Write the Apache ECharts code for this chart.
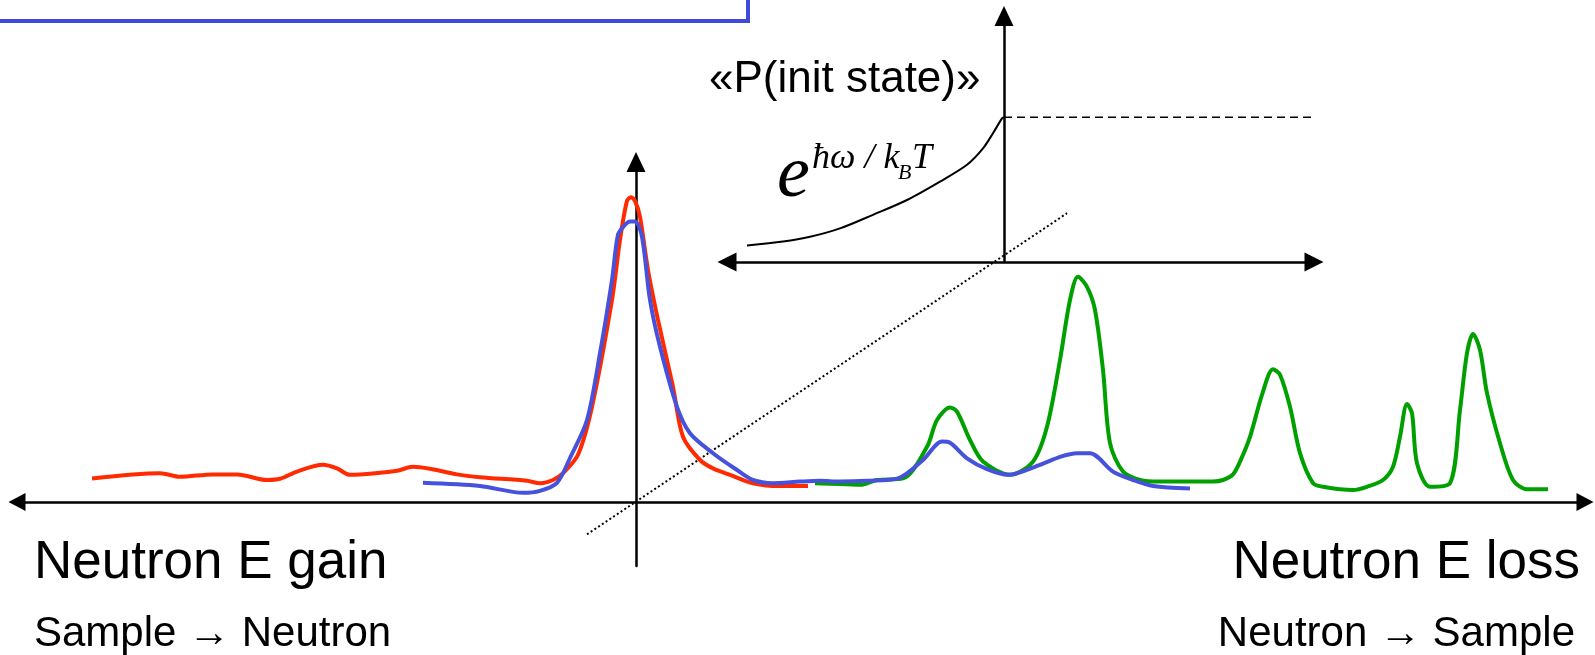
<!DOCTYPE html>
<html>
<head>
<meta charset="utf-8">
<script src="https://cdn.jsdelivr.net/npm/echarts@6/dist/echarts.min.js"></script>
<style>
  html, body { margin: 0; padding: 0; background: #fff; }
  #chart { width: 1595px; height: 655px; }
</style>
</head>
<body>
<div id="chart"></div>
<script>
// Energy transfer (arbitrary units, 0 = elastic line) and intensity (arbitrary units)

// Neutron energy-gain side, high temperature spectrum
const redSpectrum = [
  [-54.4, 5.9], [-47.6, 7.2], [-45.6, 6.3], [-42.3, 6.9], [-39.9, 6.9], [-36.9, 5.5],
  [-35.6, 5.8], [-33.9, 7.6], [-31.3, 9.3], [-29.9, 8.4], [-28.6, 6.8], [-25.6, 7.3],
  [-23.9, 7.8], [-22.3, 8.8], [-20.6, 8.3], [-17.9, 6.9], [-15.6, 6.2], [-10.9, 5.3],
  [-9.6, 4.7], [-8.3, 5.5], [-7.3, 7.2], [-5.8, 11.8], [-4.4, 23.8], [-2.4, 50.5],
  [-1.6, 65.5], [-0.9, 75.3], [-0.5, 76.2], [-0.1, 75.3], [0.4, 71.3], [1.2, 58],
  [2.2, 45.5], [3.7, 28.8], [4.7, 16.3], [6.4, 10.5], [7.7, 8.4], [9.4, 6.8],
  [11.7, 4.7], [14.4, 4.0], [17.2, 4.0]
];

// Smoothed (resolution-limited) spectrum
const blueSpectrum = [
  [-21.3, 4.8], [-15.6, 4.0], [-11.3, 2.3], [-9.6, 2.8], [-7.9, 4.8], [-6.6, 11],
  [-4.9, 20.5], [-3.6, 37.2], [-2.4, 55.5], [-1.8, 66.8], [-1.2, 69], [-0.6, 70.1],
  [-0.1, 70.1], [0.6, 66.3], [1.4, 50.5], [2.4, 38.8], [4.1, 23.8], [5.4, 17.2],
  [7.7, 12.2], [10.1, 8], [11.7, 5.5], [13.7, 4.7], [16.4, 5.1], [18.4, 5.3],
  [20.4, 5.1], [23.1, 5.3], [26.2, 5.9], [28.7, 10.5], [30.6, 15.1], [31.4, 14.8],
  [33.1, 10.9], [35.1, 8.2], [37.2, 6.8], [40.4, 9.3], [42.4, 11.3], [44.1, 12.2],
  [45.4, 12.2], [47.7, 7.6], [49.7, 5.5], [51.7, 4.0], [55.4, 3.4]
];

// Neutron energy-loss side, sharp excitations
const greenSpectrum = [
  [17.9, 4.7], [20.4, 4.5], [22.4, 4.3], [24.1, 5.5], [26.7, 5.9], [29.1, 13.8],
  [30.1, 20.5], [31.4, 23.6], [32.1, 22.6], [33.4, 15.5], [34.7, 10.1], [37.4, 6.8],
  [39.7, 10.1], [41.1, 18.8], [42.4, 35.5], [43.4, 50.5], [44.2, 56.3], [45.1, 53.8],
  [45.9, 48], [46.7, 33], [47.4, 14.7], [48.7, 7.6], [50.4, 5.5], [52.4, 5.1],
  [56.4, 5.1], [57.7, 5.1], [58.7, 5.5], [59.7, 6.9], [60.4, 10.1], [61.4, 16.3],
  [62.6, 26.8], [63.7, 33.2], [64.4, 31.8], [65.4, 23.8], [66.4, 12.2], [67.7, 4.7],
  [68.7, 3.8], [71.7, 3.0], [73.1, 3.8], [74.7, 5.5], [75.7, 8.8], [76.4, 16.3],
  [77.1, 24.5], [77.6, 22.2], [78.1, 9.7], [79.4, 3.8], [81.4, 4.7], [82.4, 23],
  [83.1, 37.2], [83.7, 42], [84.4, 38], [85.1, 27.2], [86.4, 14.7], [87.7, 5.5],
  [89.1, 3.2], [91.2, 3.2]
];

// Guide line linking the two origins
const diagonalGuide = [[-4.9, -8.1], [43.1, 72.2]];

// Inset: initial-state population
const boltzmannCurve = [
  [-25.7, 4.1], [-22.1, 5.1], [-19.4, 6.3], [-16.4, 8.4], [-13.1, 11.8], [-9.7, 15.5],
  [-6.4, 20.1], [-3.7, 24.3], [-2.1, 28.4], [-1.1, 32.2], [-0.2, 35.9], [0, 36.2]
];
const groundPlateau = [[0, 36.2], [30.7, 36.2]];

const chart = echarts.init(document.getElementById('chart'), null, { renderer: 'canvas' });

const hidden = { axisTick: { show: false }, axisLabel: { show: false }, splitLine: { show: false } };
const axisStroke = { color: '#000', width: 2.5 };
const serif = '"Liberation Serif", "Times New Roman", serif';
const sans = '"Liberation Sans", Arial, sans-serif';

function lineSeries(data, color, width, extra) {
  return Object.assign({
    type: 'line', data: data, showSymbol: false, symbol: 'none', silent: true,
    lineStyle: { color: color, width: width }, z: 3
  }, extra || {});
}

chart.setOption({
  animation: false,
  backgroundColor: '#fff',
  grid: [
    { left: 17, right: 10, top: 162, bottom: 89 },
    { left: 727, right: 281, top: 16, bottom: 393 }
  ],
  xAxis: [
    Object.assign({
      type: 'value', gridIndex: 0, min: -61.9, max: 94.9,
      axisLine: { show: true, onZero: true, lineStyle: axisStroke, symbol: ['triangle', 'triangle'], symbolSize: [18, 17] }
    }, hidden),
    Object.assign({
      type: 'value', gridIndex: 1, min: -27.7, max: 31,
      axisLine: { show: true, onZero: true, lineStyle: axisStroke, symbol: ['triangle', 'triangle'], symbolSize: [19, 19] }
    }, hidden)
  ],
  yAxis: [
    Object.assign({
      type: 'value', gridIndex: 0, min: -16, max: 85,
      axisLine: { show: true, onZero: true, lineStyle: axisStroke, symbol: ['none', 'triangle'], symbolSize: [19, 20] }
    }, hidden),
    Object.assign({
      type: 'value', gridIndex: 1, min: 0, max: 61.5,
      axisLine: { show: true, onZero: true, lineStyle: axisStroke, symbol: ['none', 'triangle'], symbolSize: [19, 20] }
    }, hidden)
  ],
  series: [
    lineSeries(diagonalGuide, '#000', 2, { xAxisIndex: 0, yAxisIndex: 0, lineStyle: { color: '#000', width: 2, type: [2, 2.5] }, z: 2 }),
    lineSeries(greenSpectrum, '#00a000', 4, { xAxisIndex: 0, yAxisIndex: 0, smooth: 0.3 }),
    lineSeries(redSpectrum, '#ff2a00', 4, { xAxisIndex: 0, yAxisIndex: 0, smooth: 0.3 }),
    lineSeries(blueSpectrum, '#4652dc', 4, { xAxisIndex: 0, yAxisIndex: 0, smooth: 0.3 }),
    lineSeries(boltzmannCurve, '#000', 2, { xAxisIndex: 1, yAxisIndex: 1, smooth: 0.3 }),
    lineSeries(groundPlateau, '#000', 1.6, { xAxisIndex: 1, yAxisIndex: 1, lineStyle: { color: '#000', width: 1.6, type: [8, 5] } })
  ],
  graphic: [
    { type: 'rect', shape: { x: -10, y: -10, width: 758, height: 31 }, style: { fill: 'none', stroke: '#3d4ad9', lineWidth: 4 }, silent: true },
    { type: 'text', x: 709, y: 80, style: { text: '«P(init state)»', font: '44px ' + sans, fill: '#000', verticalAlign: 'middle', align: 'left' } },
    { type: 'text', x: 777, y: 214, style: { text: 'e', font: 'italic 74px ' + serif, fill: '#000', verticalAlign: 'bottom', align: 'left' } },
    { type: 'text', x: 812, y: 177, style: { text: 'ħω / k', font: 'italic 36px ' + serif, fill: '#000', verticalAlign: 'bottom', align: 'left' } },
    { type: 'text', x: 898, y: 184, style: { text: 'B', font: 'italic 22px ' + serif, fill: '#000', verticalAlign: 'bottom', align: 'left' } },
    { type: 'text', x: 912, y: 177, style: { text: 'T', font: 'italic 36px ' + serif, fill: '#000', verticalAlign: 'bottom', align: 'left' } },
    { type: 'text', x: 34, y: 563, style: { text: 'Neutron E gain', font: '53px ' + sans, fill: '#000', verticalAlign: 'middle', align: 'left' } },
    { type: 'text', x: 34, y: 634, style: { text: 'Sample → Neutron', font: '42px ' + sans, fill: '#000', verticalAlign: 'middle', align: 'left' } },
    { type: 'text', x: 1580, y: 563, style: { text: 'Neutron E loss', font: '53px ' + sans, fill: '#000', verticalAlign: 'middle', align: 'right' } },
    { type: 'text', x: 1575, y: 634, style: { text: 'Neutron → Sample', font: '42px ' + sans, fill: '#000', verticalAlign: 'middle', align: 'right' } }
  ]
});
</script>
</body>
</html>
